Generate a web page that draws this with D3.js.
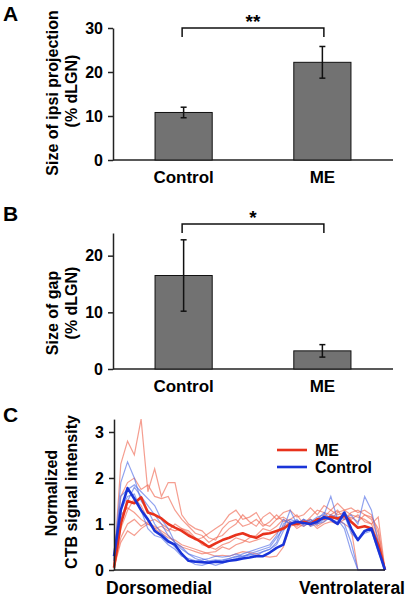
<!DOCTYPE html>
<html>
<head>
<meta charset="utf-8">
<script src="https://cdn.jsdelivr.net/npm/d3@7"></script>
<style>
html,body{margin:0;padding:0;background:#fff;}
svg text{font-family:"Liberation Sans",Arial,Helvetica,sans-serif;font-weight:bold;fill:#000;}
</style>
</head>
<body>
<svg id="chart" width="409" height="599"></svg>
<script>
// ---------- DATA ----------
const categories = ["Control", "ME"];
const ipsiMean = [10.8, 22.2];
const ipsiErr = [1.2, 3.6];
const ipsiTicks = [0, 10, 20, 30];
const gapMean = [16.5, 3.2];
const gapErr = [6.3, 1.1];
const gapTicks = [0, 10, 20];
const profileTicks = [0, 1, 2, 3];
const sigA = "**";
const sigB = "*";

// profile x positions (% along dorsomedial -> ventrolateral axis)
const profileX = [0,2.5,5,7.5,10,12.5,15,17.5,20,22.5,25,27.5,30,32.5,35,37.5,40,42.5,45,47.5,50,52.5,55,57.5,60,62.5,65,67.5,70,72.5,75,77.5,80,82.5,85,87.5,90,92.5,95,97.5,100];

const meMean = [0.05,1.0,1.5,1.45,1.58,1.25,1.2,1.12,1.0,0.92,0.85,0.75,0.68,0.6,0.5,0.58,0.65,0.7,0.76,0.8,0.74,0.7,0.78,0.8,0.85,0.9,1.0,1.0,1.05,1.0,1.1,1.12,1.15,1.12,1.18,1.05,0.92,0.95,0.9,0.55,0.0];
const controlMean = [0.3,1.3,1.78,1.55,1.3,1.1,0.85,0.75,0.62,0.55,0.35,0.2,0.18,0.17,0.16,0.18,0.17,0.2,0.22,0.25,0.27,0.3,0.3,0.38,0.48,0.55,1.0,1.05,1.02,1.0,1.05,1.15,1.1,1.0,1.25,0.9,0.65,0.85,0.9,0.45,0.0];

const meSingles = [
  [0.1,2.3,2.8,2.5,3.28,1.7,2.2,1.6,1.9,1.9,1.2,1.0,0.9,0.85,0.7,0.65,0.9,1.05,1.1,0.95,1.0,1.1,0.95,1.05,1.2,1.05,1.1,1.2,1.0,1.15,1.3,1.25,1.2,1.3,1.1,1.25,1.3,1.2,1.15,0.9,0.0],
  [0.2,1.6,1.9,2.0,1.75,1.85,1.6,1.55,1.6,1.3,1.1,0.95,0.8,0.75,0.6,0.7,0.75,0.9,1.0,1.2,1.05,0.95,1.15,1.25,1.1,1.15,1.05,1.0,1.1,0.95,1.05,1.15,1.3,1.2,1.25,1.1,1.2,1.05,1.0,0.6,0.0],
  [0.05,0.6,0.85,0.75,0.9,1.0,0.95,0.85,0.75,0.6,0.5,0.45,0.4,0.35,0.38,0.4,0.5,0.45,0.55,0.6,0.7,0.75,0.9,0.85,0.95,1.1,1.0,0.95,1.05,1.1,1.0,1.2,1.1,1.25,1.3,1.2,1.15,1.1,1.0,1.15,0.0],
  [0.0,0.9,1.3,1.55,1.4,1.1,0.9,0.8,0.7,0.65,0.55,0.5,0.45,0.4,0.35,0.3,0.32,0.3,0.35,0.4,0.38,0.35,0.3,0.28,0.3,0.5,0.95,1.0,0.95,1.05,0.9,1.0,1.05,1.0,1.1,1.15,1.05,1.2,1.1,0.7,0.0],
  [0.1,1.2,1.35,1.25,1.1,1.0,0.9,0.95,0.85,1.0,0.9,0.85,0.7,0.55,0.5,0.45,0.55,0.6,0.7,0.65,0.6,0.65,0.7,0.65,0.8,0.95,1.05,0.9,1.0,1.1,0.95,1.05,1.2,1.1,1.0,0.9,0.0,0.0,0.0,0.0,0.0],
  [0.05,0.7,1.0,1.1,0.95,1.05,1.1,1.0,0.9,0.85,0.9,0.8,0.65,0.7,0.8,0.9,1.0,1.2,1.3,1.1,1.15,1.25,1.0,0.95,1.1,1.25,1.3,1.15,1.2,1.35,1.2,1.4,1.3,1.45,1.3,1.35,1.25,1.3,1.2,0.8,0.0]
];
const controlSingles = [
  [0.2,1.9,2.35,2.0,1.5,1.3,1.0,0.8,0.65,0.5,0.35,0.2,0.12,0.1,0.15,0.2,0.22,0.25,0.3,0.28,0.35,0.4,0.45,0.5,0.7,0.9,1.3,1.0,1.1,1.05,1.15,1.2,1.6,1.1,1.0,0.6,0.0,0.0,0.0,0.0,0.0],
  [0.3,1.6,1.75,1.85,1.7,1.55,1.4,1.1,0.9,0.6,0.45,0.35,0.25,0.2,0.15,0.1,0.15,0.2,0.25,0.3,0.35,0.3,0.4,0.45,0.6,1.0,1.1,1.05,1.0,1.1,1.0,1.1,1.2,1.15,1.1,1.2,1.0,1.6,1.3,0.6,0.0],
  [0.2,1.3,1.6,1.65,1.3,0.9,0.75,0.7,0.55,0.45,0.3,0.25,0.2,0.22,0.25,0.3,0.28,0.3,0.35,0.3,0.32,0.35,0.4,0.45,0.55,0.85,1.05,1.0,1.1,0.95,1.0,1.05,1.15,1.1,0.9,0.4,0.0,0.0,0.0,0.0,0.0],
  [0.25,1.1,1.5,1.8,1.6,1.4,1.2,1.0,0.75,0.6,0.5,0.35,0.3,0.25,0.2,0.22,0.2,0.25,0.28,0.35,0.4,0.45,0.5,0.55,0.75,1.1,1.0,1.1,0.95,1.05,1.1,1.25,1.1,1.05,1.2,0.8,0.65,0.8,0.85,0.4,0.0]
];
const legendLabels = ["ME", "Control"];

// ---------- DRAW ----------
const svg = d3.select("#chart");
const FONT = 17;
const TICKFONT = 16;
const TITLEFONT = 16;
const axisColor = "#222";

function styleAxis(g) {
  g.selectAll(".domain").attr("stroke", axisColor).attr("stroke-width", 1.5);
  g.selectAll(".tick line").attr("stroke", axisColor).attr("stroke-width", 1.5);
  g.selectAll(".tick text").attr("font-size", TICKFONT).attr("fill", "#000")
    .style("font-family", '"Liberation Sans",Arial,sans-serif').style("font-weight", "bold");
}

function barPanel(opts) {
  const x = d3.scaleBand().domain(categories).range([113, 393])
    .paddingInner(0.588).paddingOuter(0.303);
  const y = d3.scaleLinear().domain(opts.domain).range(opts.range);

  const ya = svg.append("g").attr("transform", "translate(113,0)")
    .call(d3.axisLeft(y).tickValues(opts.ticks).tickFormat(d3.format("d"))
      .tickSize(5).tickPadding(5).tickSizeOuter(0));
  styleAxis(ya);
  svg.append("line").attr("x1", 113).attr("x2", 393)
    .attr("y1", y(0)).attr("y2", y(0)).attr("stroke", axisColor).attr("stroke-width", 1.5);

  svg.append("g").selectAll("rect").data(categories).join("rect")
    .attr("x", d => x(d)).attr("width", x.bandwidth())
    .attr("y", (d, i) => y(opts.mean[i]))
    .attr("height", (d, i) => y(0) - y(opts.mean[i]))
    .attr("fill", "#727272").attr("stroke", "#111").attr("stroke-width", 1);

  const eb = svg.append("g").attr("stroke", "#111").attr("stroke-width", 1.5);
  categories.forEach((c, i) => {
    const cx = x(c) + x.bandwidth() / 2;
    const hi = y(opts.mean[i] + opts.err[i]);
    const lo = y(opts.mean[i] - opts.err[i]);
    eb.append("line").attr("x1", cx).attr("x2", cx).attr("y1", hi).attr("y2", lo);
    eb.append("line").attr("x1", cx - 3).attr("x2", cx + 3).attr("y1", hi).attr("y2", hi);
    eb.append("line").attr("x1", cx - 3).attr("x2", cx + 3).attr("y1", lo).attr("y2", lo);
  });

  svg.append("g").selectAll("text").data(categories).join("text")
    .attr("x", d => x(d) + x.bandwidth() / 2).attr("y", opts.labelY)
    .attr("text-anchor", "middle").attr("font-size", FONT).text(d => d);

  const c0 = x(categories[0]) + x.bandwidth() / 2 - 1.5;
  const c1 = x(categories[1]) + x.bandwidth() / 2 + 1.5;
  svg.append("path")
    .attr("d", `M${c0},${opts.brY + 9}V${opts.brY}H${c1}V${opts.brY + 9}`)
    .attr("fill", "none").attr("stroke", "#111").attr("stroke-width", 1.5);
  svg.append("text").attr("x", (c0 + c1) / 2).attr("y", opts.brY + opts.starDy)
    .attr("text-anchor", "middle").attr("font-size", 19).text(opts.sig);

  svg.append("text").attr("x", 3).attr("y", opts.letterY).attr("font-size", 21).text(opts.letter);

  opts.titles.forEach(t => {
    svg.append("text").attr("transform", `translate(${t.x},${t.y}) rotate(-90)`)
      .attr("text-anchor", "middle").attr("font-size", TITLEFONT).text(t.text);
  });
}

barPanel({
  domain: [0, 30], range: [160, 28], ticks: ipsiTicks, mean: ipsiMean, err: ipsiErr,
  labelY: 183, brY: 28, starDy: 0, sig: sigA, letter: "A", letterY: 21,
  titles: [{x: 58, y: 93, text: "Size of ipsi projection"}, {x: 77, y: 91, text: "(% dLGN)"}]
});

barPanel({
  domain: [0, 24], range: [369, 233], ticks: gapTicks, mean: gapMean, err: gapErr,
  labelY: 392, brY: 224, starDy: 0, sig: sigB, letter: "B", letterY: 221,
  titles: [{x: 58, y: 313, text: "Size of gap"}, {x: 77, y: 303, text: "(% dLGN)"}]
});

// ---------- Panel C ----------
const xc = d3.scaleLinear().domain([0, 100]).range([114, 385]);
const yc = d3.scaleLinear().domain([0, 3.28]).range([570, 419.1]);

const line = d3.line().x((d, i) => xc(profileX[i])).y(d => yc(d));

const clines = svg.append("g");
meSingles.forEach(s => clines.append("path").attr("d", line(s))
  .attr("fill", "none").attr("stroke", "#ef6a55").attr("stroke-opacity", 0.65).attr("stroke-width", 1.2));
controlSingles.forEach(s => clines.append("path").attr("d", line(s))
  .attr("fill", "none").attr("stroke", "#5470e6").attr("stroke-opacity", 0.65).attr("stroke-width", 1.2));
clines.append("path").attr("d", line(meMean)).attr("fill", "none")
  .attr("stroke", "#e8321c").attr("stroke-width", 2.6).attr("stroke-linejoin", "round");
clines.append("path").attr("d", line(controlMean)).attr("fill", "none")
  .attr("stroke", "#1a34d8").attr("stroke-width", 2.6).attr("stroke-linejoin", "round");

const yca = svg.append("g").attr("transform", "translate(114,0)")
  .call(d3.axisLeft(yc).tickValues(profileTicks).tickFormat(d3.format("d"))
    .tickSize(5).tickPadding(5).tickSizeOuter(0));
styleAxis(yca);
svg.append("line").attr("x1", 114).attr("x2", 385).attr("y1", 570).attr("y2", 570)
  .attr("stroke", axisColor).attr("stroke-width", 1.5);

svg.append("text").attr("x", 106).attr("y", 594).attr("font-size", 17.5).text("Dorsomedial");
svg.append("text").attr("x", 405).attr("y", 594).attr("text-anchor", "end").attr("font-size", 17.5).text("Ventrolateral");

svg.append("text").attr("x", 3).attr("y", 422).attr("font-size", 21).text("C");
svg.append("text").attr("transform", "translate(57,493) rotate(-90)")
  .attr("text-anchor", "middle").attr("font-size", TITLEFONT).text("Normalized");
svg.append("text").attr("transform", "translate(77,492) rotate(-90)")
  .attr("text-anchor", "middle").attr("font-size", TITLEFONT).text("CTB signal intensity");

const legColors = ["#e8321c", "#1a34d8"];
legendLabels.forEach((l, i) => {
  const ly = 450 + i * 17;
  svg.append("line").attr("x1", 277).attr("x2", 307).attr("y1", ly).attr("y2", ly)
    .attr("stroke", legColors[i]).attr("stroke-width", 2.6);
  svg.append("text").attr("x", 315).attr("y", ly + 5.5).attr("font-size", 16).text(l);
});
</script>
</body>
</html>
